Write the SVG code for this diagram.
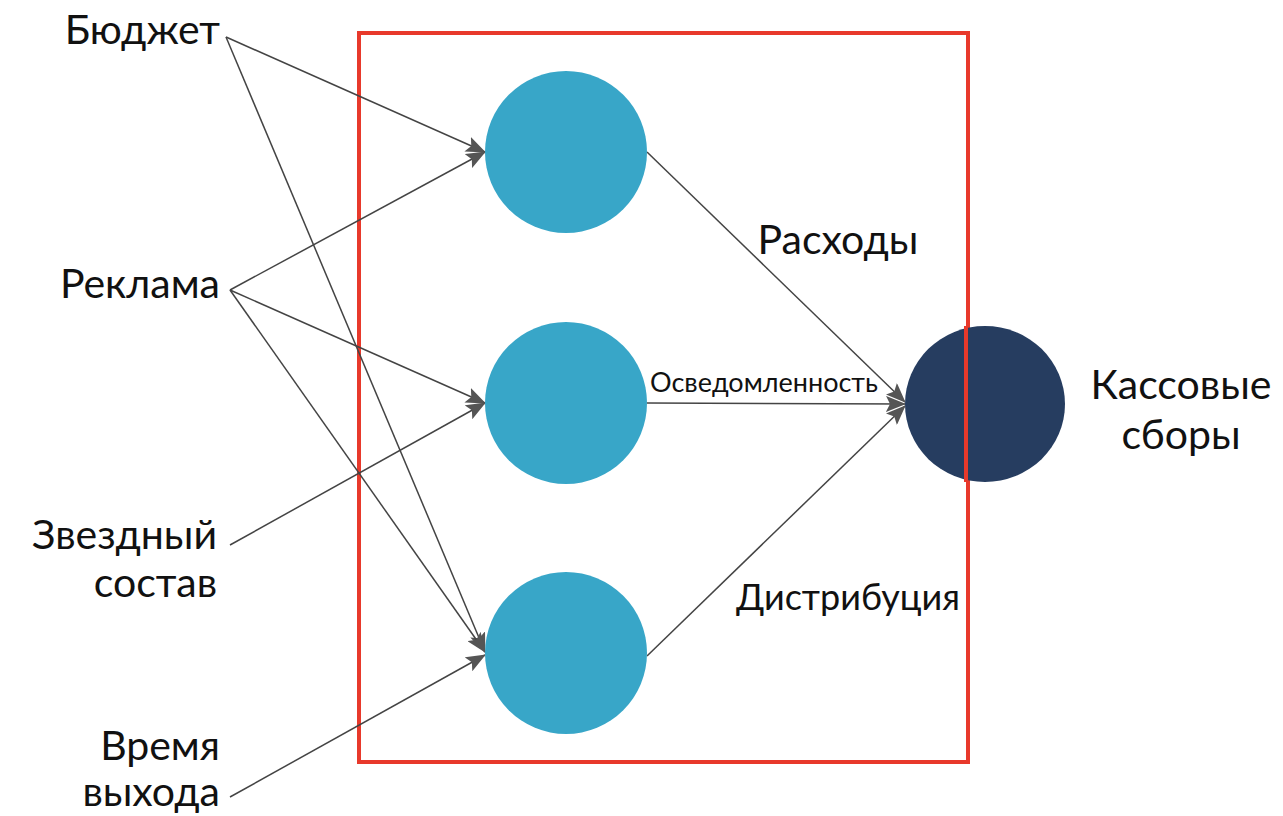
<svg xmlns="http://www.w3.org/2000/svg" width="1283" height="816" viewBox="0 0 1283 816">
<style>
.lbl{font-family:Lato,"Liberation Sans",sans-serif;fill:#111}
.big{font-size:41px}
.mid{font-size:36px}
.sm{font-size:27px}
.e{stroke:#444;stroke-width:1.5;fill:none}
.hid{fill:#38a6c8}
</style>
<defs>
<marker id="ar" viewBox="0 0 20 16" refX="19" refY="8" markerWidth="20" markerHeight="16" markerUnits="userSpaceOnUse" orient="auto">
<path d="M0,0 L20,8 L0,16 L4,8 Z" fill="#555"/>
</marker>
</defs>
<rect width="1283" height="816" fill="#fff"/>
<g id="frame"><rect x="359" y="33" width="609" height="729" fill="none" stroke="#e8392b" stroke-width="4"/></g>
<g id="connectors">
<line class="e" x1="226" y1="37" x2="485" y2="152" marker-end="url(#ar)"/>
<line class="e" x1="226" y1="37" x2="485" y2="652" marker-end="url(#ar)"/>
<line class="e" x1="230" y1="290" x2="485" y2="152" marker-end="url(#ar)"/>
<line class="e" x1="230" y1="290" x2="485" y2="403" marker-end="url(#ar)"/>
<line class="e" x1="230" y1="290" x2="485" y2="652" marker-end="url(#ar)"/>
<line class="e" x1="230" y1="545" x2="485" y2="403" marker-end="url(#ar)"/>
<line class="e" x1="230" y1="797" x2="485" y2="655" marker-end="url(#ar)"/>
<line class="e" x1="647" y1="152" x2="905" y2="402" marker-end="url(#ar)"/>
<line class="e" x1="647" y1="403" x2="905" y2="404" marker-end="url(#ar)"/>
<line class="e" x1="647" y1="656" x2="905" y2="406" marker-end="url(#ar)"/>
</g>
<g id="n-budget"><text class="lbl big" x="220" y="44" text-anchor="end">Бюджет</text></g>
<g id="n-ads"><text class="lbl big" x="220" y="298" text-anchor="end">Реклама</text></g>
<g id="n-stars"><text class="lbl big" x="217" y="549" text-anchor="end">Звездный</text><text class="lbl big" x="217" y="597" text-anchor="end">состав</text></g>
<g id="n-release"><text class="lbl big" x="220" y="760" text-anchor="end">Время</text><text class="lbl big" x="220" y="806" text-anchor="end">выхода</text></g>
<g id="h1"><circle class="hid" cx="566" cy="152" r="81"/></g>
<g id="h2"><circle class="hid" cx="566" cy="403" r="81"/></g>
<g id="h3"><circle class="hid" cx="566" cy="653" r="81"/></g>
<g id="out"><ellipse cx="985" cy="404" rx="80" ry="78" fill="#263d60"/><line x1="966" y1="326" x2="966" y2="482" stroke="#e8392b" stroke-width="4"/></g>
<g id="out-label"><text class="lbl big" x="1181" y="399" text-anchor="middle">Кассовые</text><text class="lbl big" x="1181" y="449" text-anchor="middle">сборы</text></g>
<g id="edge-labels">
<text class="lbl big" x="838" y="254" text-anchor="middle">Расходы</text>
<text class="lbl sm" x="650" y="392">Осведомленность</text>
<text class="lbl mid" x="736" y="610">Дистрибуция</text>
</g>
</svg>
